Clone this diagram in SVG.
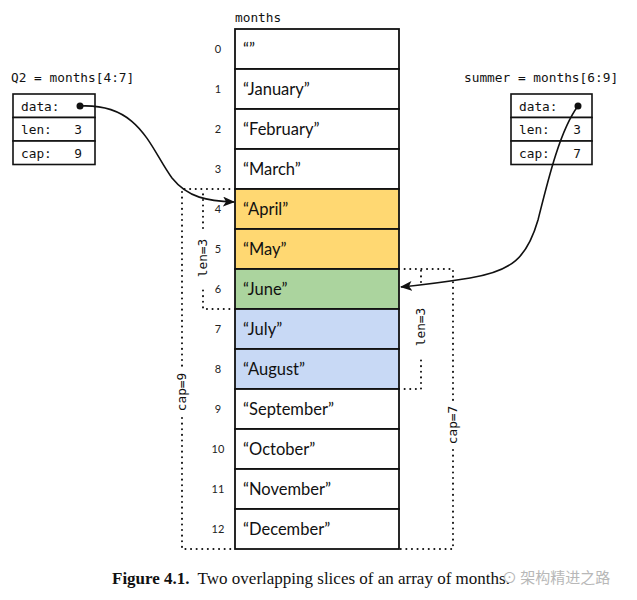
<svg xmlns="http://www.w3.org/2000/svg" width="637" height="600" viewBox="0 0 637 600">
<style>
.mono{font-family:"DejaVu Sans Mono","Liberation Mono",monospace;font-size:12.8px;fill:#111}
.cell{stroke:#111;stroke-width:1.8;fill:#fff}
.box{stroke:#111;stroke-width:1.6;fill:#fff}
.lab{font-family:Lato,"Noto Sans",sans-serif;font-size:16.5px;fill:#111}
.idx{font-family:Lato,"Noto Sans",sans-serif;font-size:11px;fill:#222;text-anchor:middle}
.dot{stroke:#111;stroke-width:2;stroke-dasharray:0.1 5.5;stroke-linecap:round;fill:none}
.conn{stroke:#111;stroke-width:1.6;fill:none}
.y{fill:#FFD872}.g{fill:#ABD49E}.b{fill:#C8D9F5}
</style>
<defs>
<marker id="arr" viewBox="0 0 12 10" refX="11" refY="5" markerWidth="12" markerHeight="10" markerUnits="userSpaceOnUse" orient="auto">
<path d="M0,0 L12,5 L0,10 L3,5 Z" fill="#111"/>
</marker>
</defs>
<rect width="637" height="600" fill="#fff"/>

<g id="months">
<text class="mono" x="235" y="22">months</text>
<rect class="cell" x="235" y="29" width="164" height="40"/>
<rect class="cell" x="235" y="69" width="164" height="40"/>
<rect class="cell" x="235" y="109" width="164" height="40"/>
<rect class="cell" x="235" y="149" width="164" height="40"/>
<rect class="cell y" x="235" y="189" width="164" height="40"/>
<rect class="cell y" x="235" y="229" width="164" height="40"/>
<rect class="cell g" x="235" y="269" width="164" height="40"/>
<rect class="cell b" x="235" y="309" width="164" height="40"/>
<rect class="cell b" x="235" y="349" width="164" height="40"/>
<rect class="cell" x="235" y="389" width="164" height="40"/>
<rect class="cell" x="235" y="429" width="164" height="40"/>
<rect class="cell" x="235" y="469" width="164" height="40"/>
<rect class="cell" x="235" y="509" width="164" height="40"/>
<text class="lab" x="243" y="55">“”</text>
<text class="lab" x="243" y="95">“January”</text>
<text class="lab" x="243" y="135">“February”</text>
<text class="lab" x="243" y="175">“March”</text>
<text class="lab" x="243" y="215">“April”</text>
<text class="lab" x="243" y="255">“May”</text>
<text class="lab" x="243" y="295">“June”</text>
<text class="lab" x="243" y="335">“July”</text>
<text class="lab" x="243" y="375">“August”</text>
<text class="lab" x="243" y="415">“September”</text>
<text class="lab" x="243" y="455">“October”</text>
<text class="lab" x="243" y="495">“November”</text>
<text class="lab" x="243" y="535">“December”</text>
<text class="idx" x="218" y="53">0</text>
<text class="idx" x="218" y="93">1</text>
<text class="idx" x="218" y="133">2</text>
<text class="idx" x="218" y="173">3</text>
<text class="idx" x="218" y="213">4</text>
<text class="idx" x="218" y="253">5</text>
<text class="idx" x="218" y="293">6</text>
<text class="idx" x="218" y="333">7</text>
<text class="idx" x="218" y="373">8</text>
<text class="idx" x="218" y="413">9</text>
<text class="idx" x="218" y="453">10</text>
<text class="idx" x="218" y="493">11</text>
<text class="idx" x="218" y="533">12</text>
</g>

<g id="q2">
<text class="mono" x="11" y="82">Q2 = months[4:7]</text>
<rect class="box" x="13" y="94" width="82" height="23.5"/>
<rect class="box" x="13" y="117.5" width="82" height="23.5"/>
<rect class="box" x="13" y="141" width="82" height="23.5"/>
<text class="mono" x="21" y="111">data:</text>
<text class="mono" x="21" y="134">len:</text>
<text class="mono" x="21" y="157.5">cap:</text>
<text class="mono" x="82" y="134" text-anchor="end">3</text>
<text class="mono" x="82" y="157.5" text-anchor="end">9</text>
<circle cx="80" cy="106" r="3.5" fill="#111"/>
</g>

<g id="summer">
<text class="mono" x="464" y="82">summer = months[6:9]</text>
<rect class="box" x="511" y="94" width="81" height="23.5"/>
<rect class="box" x="511" y="117.5" width="81" height="23.5"/>
<rect class="box" x="511" y="141" width="81" height="23.5"/>
<text class="mono" x="519" y="111">data:</text>
<text class="mono" x="519" y="134">len:</text>
<text class="mono" x="519" y="157.5">cap:</text>
<text class="mono" x="581" y="134" text-anchor="end">3</text>
<text class="mono" x="581" y="157.5" text-anchor="end">7</text>
<circle cx="578" cy="106" r="3.5" fill="#111"/>
</g>

<g id="bounds">
<path class="dot" d="M235,189 H182 V366 M182,418 V549 H235"/>
<path class="dot" d="M235,309 H203 V286 M203,228 V189"/>
<path class="dot" d="M399,269 H453 V400 M453,450 V549 H399"/>
<path class="dot" d="M399,389 H421 V358 M421,282 V269"/>
<text class="mono" transform="translate(207,258) rotate(-90)" text-anchor="middle">len=3</text>
<text class="mono" transform="translate(186,392) rotate(-90)" text-anchor="middle">cap=9</text>
<text class="mono" transform="translate(425,327) rotate(-90)" text-anchor="middle">len=3</text>
<text class="mono" transform="translate(457,425) rotate(-90)" text-anchor="middle">cap=7</text>
</g>

<g id="connectors">
<path class="conn" marker-end="url(#arr)" d="M80,106 C140,103 150,148 172,178 C188,198 208,201 234,202"/>
<path class="conn" marker-end="url(#arr)" d="M578,106 C560,130 548,180 538,220 C527,258 512,271 470,278 C445,282 422,285 401,287"/>
</g>

<g id="caption">
<text x="112" y="584" font-family="'Liberation Serif',serif" font-size="17px" fill="#111"><tspan font-weight="bold">Figure 4.1.</tspan><tspan dx="8">Two overlapping slices of an array of months.</tspan></text>
<text x="502" y="583" font-family="'Noto Sans CJK SC',sans-serif" font-size="15px" fill="#b8b8b8">⊙ 架构精进之路</text>
</g>
</svg>
